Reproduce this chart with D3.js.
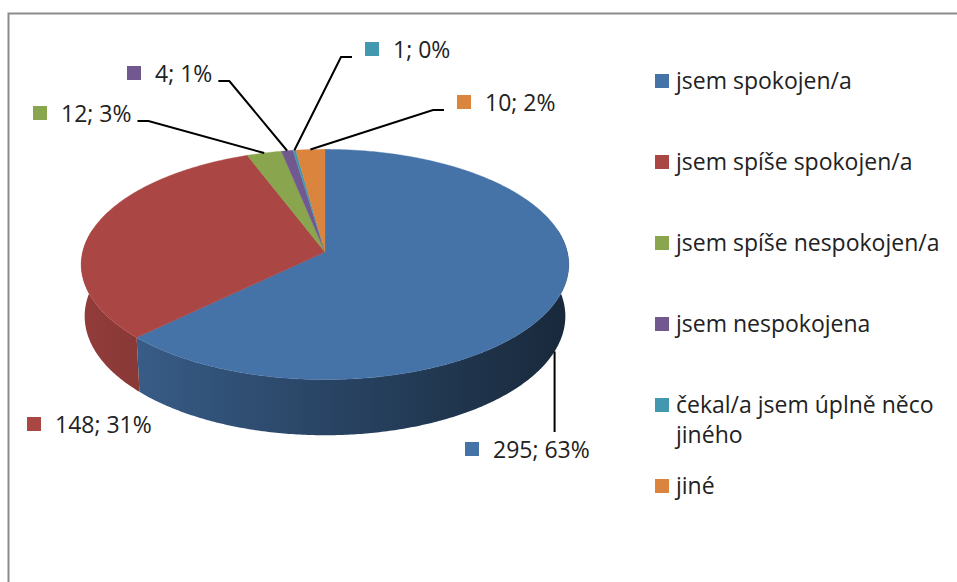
<!DOCTYPE html>
<html>
<head>
<meta charset="utf-8">
<script src="https://cdn.jsdelivr.net/npm/d3@7"></script>
<style>
  body { margin: 0; background: #fff; }
  text { font-family: "Open Sans", sans-serif; fill: #222; }
</style>
</head>
<body>
<svg id="chart" width="957" height="582"></svg>
<script>
var categories = ['jsem spokojen/a', 'jsem spíše spokojen/a', 'jsem spíše nespokojen/a',
  'jsem nespokojena', 'čekal/a jsem úplně něco jiného', 'jiné'];
var values = [295, 148, 12, 4, 1, 10];
var colors = ['#4572A7', '#AA4643', '#89A54E', '#71588F', '#4198AF', '#DB843D'];

// label placement: left edge of the key square and text baseline
var labelX = [465, 27, 33, 127, 365, 457];
var labelY = [458, 433, 122, 82, 58, 111];
// how the leader line leaves the label
var leaderKind = ['below', null, 'textEnd', 'textEnd', 'boxStart', 'boxStart'];

var svg = d3.select('#chart');
var defs = svg.append('defs');
var total = d3.sum(values);
var pct = d3.format('.0%');

// frame
svg.append('rect')
  .attr('x', 8.5).attr('y', 13.5)
  .attr('width', 1000).attr('height', 1000)
  .attr('fill', 'none')
  .attr('stroke', '#8c8c8c')
  .attr('stroke-width', 2);

// 3D pie projection
var tilt = 28 * Math.PI / 180;
var camDist = 8.15;
var focal = 1975;
var thick = 0.244;
var cx = 325, cy = 252;

function project(theta, h) {
  var x = Math.sin(theta), z = Math.cos(theta);
  var depth = camDist - h * Math.sin(tilt) + z * Math.cos(tilt);
  var up = h * Math.cos(tilt) + z * Math.sin(tilt);
  return [cx + focal * x / depth, cy - focal * up / depth];
}

var arcs = d3.pie().sort(null).value(d => d)(values);
var shade = d3.scaleLinear().domain([-1, 0, 1]).range([0.86, 0.6, 0.36]);
var xLeft = project(3 * Math.PI / 2, -thick)[0];
var xRight = project(Math.PI / 2, -thick)[0];

// side wall, one band per slice, shaded left to right
arcs.forEach(function(a, i) {
  var grad = defs.append('linearGradient')
    .attr('id', 'side' + i)
    .attr('gradientUnits', 'userSpaceOnUse')
    .attr('x1', xLeft).attr('x2', xRight)
    .attr('y1', 0).attr('y2', 0);
  d3.range(-1, 1.001, 0.25).forEach(function(s) {
    grad.append('stop')
      .attr('offset', (s + 1) / 2)
      .attr('stop-color', d3.interpolateRgb('#000', colors[i])(shade(s)));
  });
});

var sideArcs = arcs.map(function(a, i) {
  return {
    index: i,
    t0: Math.max(a.startAngle, Math.PI / 2 - 0.2),
    t1: Math.min(a.endAngle, 3 * Math.PI / 2 + 0.2)
  };
}).filter(d => d.t1 > d.t0);

svg.append('g').selectAll('path')
  .data(sideArcs)
  .enter()
  .append('path')
  .attr('d', function(d) {
    var p = d3.path();
    var n = Math.max(2, Math.ceil((d.t1 - d.t0) / 0.01));
    var pt;
    for (var k = 0; k <= n; k++) {
      pt = project(d.t0 + (d.t1 - d.t0) * k / n, 0);
      if (k === 0) p.moveTo(pt[0], pt[1]); else p.lineTo(pt[0], pt[1]);
    }
    for (k = n; k >= 0; k--) {
      pt = project(d.t0 + (d.t1 - d.t0) * k / n, -thick);
      p.lineTo(pt[0], pt[1]);
    }
    p.closePath();
    return p.toString();
  })
  .attr('fill', d => 'url(#side' + d.index + ')');

// top face
svg.append('g').selectAll('path')
  .data(arcs)
  .enter()
  .append('path')
  .attr('d', function(a) {
    var p = d3.path();
    p.moveTo(cx, cy);
    var n = Math.max(2, Math.ceil((a.endAngle - a.startAngle) / 0.01));
    for (var k = 0; k <= n; k++) {
      var pt = project(a.startAngle + (a.endAngle - a.startAngle) * k / n, 0);
      p.lineTo(pt[0], pt[1]);
    }
    p.closePath();
    return p.toString();
  })
  .attr('fill', (a, i) => colors[i])
  .attr('stroke', (a, i) => colors[i])
  .attr('stroke-width', 0.4);

// data labels
var labels = svg.append('g').selectAll('g')
  .data(arcs)
  .enter()
  .append('g');

labels.append('rect')
  .attr('x', (a, i) => labelX[i])
  .attr('y', (a, i) => labelY[i] - 16)
  .attr('width', 14).attr('height', 14)
  .attr('fill', (a, i) => colors[i]);

labels.append('text')
  .attr('x', (a, i) => labelX[i] + 28)
  .attr('y', (a, i) => labelY[i])
  .attr('font-size', 23)
  .text(a => a.value + '; ' + pct(a.value / total));

// leader lines
labels.each(function(a, i) {
  var kind = leaderKind[i];
  if (!kind) return;
  var mid = (a.startAngle + a.endAngle) / 2;
  var pts, anchor;
  if (kind === 'below') {
    anchor = project(mid, -thick);
    pts = [anchor, [anchor[0], labelY[i] - 26]];
  } else {
    anchor = project(mid, 0);
    var ly = labelY[i] - 1;
    if (kind === 'textEnd') {
      var end = labelX[i] + 28 + d3.select(this).select('text').node().getComputedTextLength();
      pts = [[end + 6, ly], [end + 17, ly], anchor];
    } else {
      pts = [[labelX[i] - 13, ly], [labelX[i] - 24, ly], anchor];
    }
  }
  d3.select(this).append('path')
    .attr('d', d3.line()(pts))
    .attr('fill', 'none')
    .attr('stroke', '#000')
    .attr('stroke-width', 2);
});

// legend
var legendX = 655, legendY = 89, legendStep = 81, legendWidth = 275;
var legend = svg.append('g').selectAll('g')
  .data(categories)
  .enter()
  .append('g')
  .attr('transform', (d, i) => 'translate(' + legendX + ',' + (legendY + i * legendStep) + ')');

legend.append('rect')
  .attr('x', 0).attr('y', -15)
  .attr('width', 14).attr('height', 14)
  .attr('fill', (d, i) => colors[i]);

legend.append('text')
  .attr('x', 21)
  .attr('font-size', 23)
  .each(function(d) {
    var text = d3.select(this);
    var words = d.split(' ');
    var line = [];
    var lineNo = 0;
    var tspan = text.append('tspan').attr('x', 21).attr('y', 0);
    words.forEach(function(w) {
      line.push(w);
      tspan.text(line.join(' '));
      if (tspan.node().getComputedTextLength() > legendWidth && line.length > 1) {
        line.pop();
        tspan.text(line.join(' '));
        line = [w];
        lineNo++;
        tspan = text.append('tspan').attr('x', 21).attr('y', lineNo * 30).text(w);
      }
    });
  });
</script>
</body>
</html>
